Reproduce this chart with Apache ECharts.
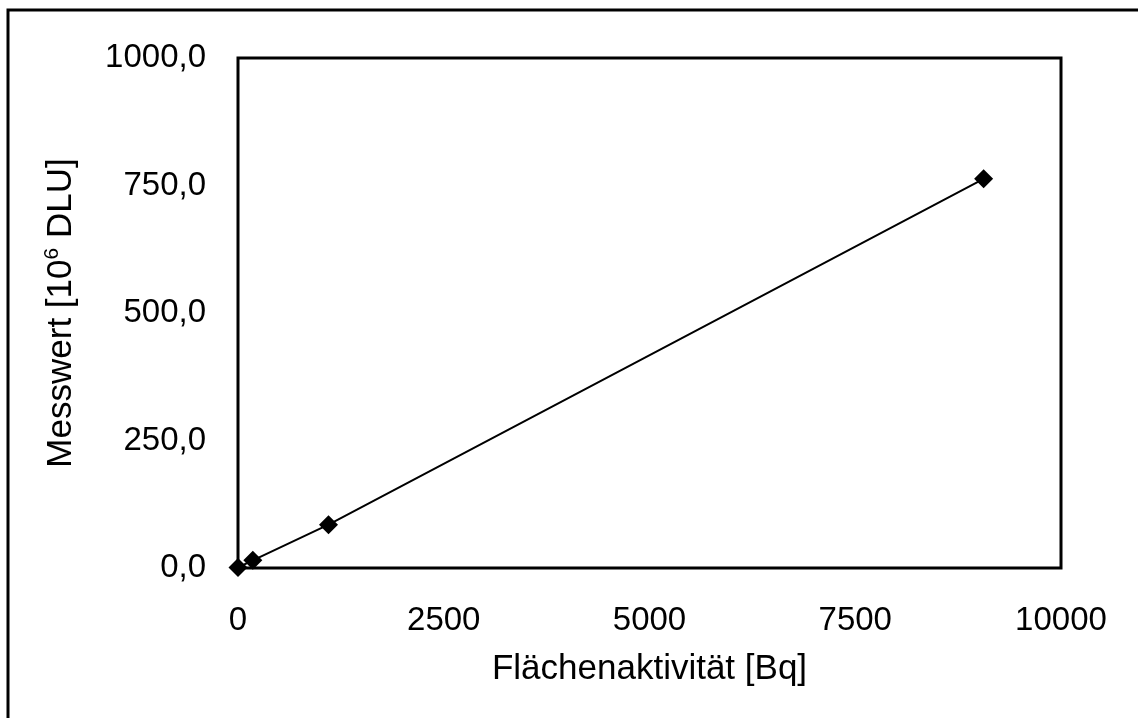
<!DOCTYPE html>
<html>
<head>
<meta charset="utf-8">
<script src="https://cdn.jsdelivr.net/npm/echarts@6/dist/echarts.min.js"></script>
<style>
  html, body { margin: 0; padding: 0; background: #fff; }
  #chart { width: 1138px; height: 718px; }
</style>
</head>
<body>
<div id="chart"></div>
<script>
var chart = echarts.init(document.getElementById('chart'), null, { renderer: 'canvas' });

// Flächenaktivität [Bq] vs. Messwert [10^6 DLU]
var aktivitaet = [0, 180, 1100, 9060];
var messwert = [1, 15, 85, 763];
var yTicks = [0, 250, 500, 750, 1000];
var xTicks = [0, 2500, 5000, 7500, 10000];

var points = [];
for (var i = 0; i < aktivitaet.length; i++) {
    points.push([aktivitaet[i], messwert[i]]);
}

var font = 'Liberation Sans, Arial, sans-serif';
var fs = 33;
var fsName = 35;

chart.setOption({
    animation: false,
    backgroundColor: '#fff',
    graphic: [
        {
            type: 'rect',
            shape: { x: 8, y: 10, width: 1140, height: 720 },
            style: { fill: 'none', stroke: '#000', lineWidth: 3 },
            silent: true
        }
    ],
    grid: {
        left: 238,
        top: 58,
        width: 823,
        height: 510,
        show: true,
        borderColor: '#000',
        borderWidth: 3,
        backgroundColor: 'transparent'
    },
    xAxis: {
        type: 'value',
        min: xTicks[0],
        max: xTicks[xTicks.length - 1],
        interval: 2500,
        name: 'Flächenaktivität [Bq]',
        nameLocation: 'middle',
        nameGap: 84,
        nameTextStyle: { color: '#000', fontSize: fsName, fontFamily: font },
        axisLine: { show: false },
        axisTick: { show: false },
        splitLine: { show: false },
        axisLabel: {
            color: '#000',
            fontSize: fs,
            fontFamily: font,
            margin: 36,
            formatter: function (v) { return String(v); }
        }
    },
    yAxis: {
        type: 'value',
        min: yTicks[0],
        max: yTicks[yTicks.length - 1],
        interval: 250,
        name: '{t|Messwert [10}{s|6}{t| DLU]}',
        nameLocation: 'middle',
        nameGap: 158,
        nameRotate: 90,
        nameTextStyle: {
            color: '#000',
            fontFamily: font,
            rich: {
                t: { fontSize: fsName, fontFamily: font, color: '#000' },
                s: { fontSize: 21, fontFamily: font, color: '#000', verticalAlign: 'top', padding: [0, 0, 17, 0] }
            }
        },
        axisLine: { show: false },
        axisTick: { show: false },
        splitLine: { show: false },
        axisLabel: {
            color: '#000',
            fontSize: fs,
            fontFamily: font,
            margin: 32,
            formatter: function (v) { return v.toFixed(1).replace('.', ','); }
        }
    },
    series: [
        {
            type: 'line',
            data: points,
            symbol: 'diamond',
            symbolSize: 19,
            clip: false,
            itemStyle: { color: '#000' },
            lineStyle: { color: '#000', width: 2 }
        }
    ]
});
</script>
</body>
</html>
